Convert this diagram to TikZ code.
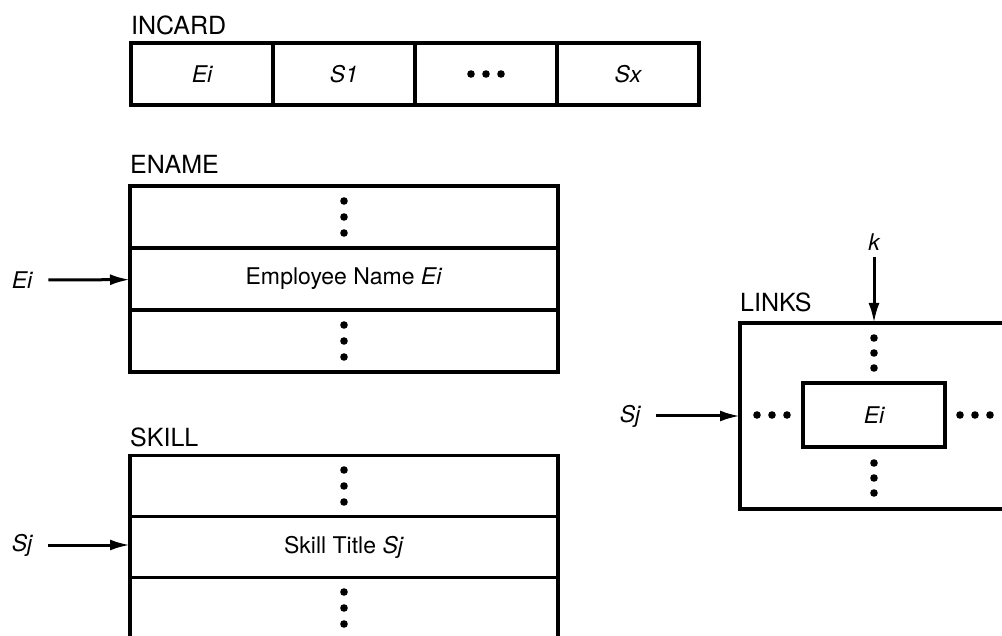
\documentclass[tikz,border=0pt]{standalone}
\usepackage{fontspec}
\setmainfont{TeX Gyre Heros}
\usetikzlibrary{arrows.meta}
\begin{document}
\begin{tikzpicture}[x=1pt,y=-1pt,
  txt/.style={font=\fontsize{23}{27}\selectfont},
  cell/.style={draw, line width=3.2pt, minimum width=#1, inner sep=0pt, outer sep=0pt, txt},
  title/.style={anchor=west, inner sep=0pt, font=\fontsize{25}{29}\selectfont},
  lbl/.style={inner sep=0pt, font=\fontsize{23}{27}\selectfont\itshape},
  arr/.style={line width=3pt, -{Latex[length=20pt,width=11pt]}},
  dot/.style={fill=black}
]
\clip (0,0) rectangle (1002,636);
\fill[white] (0,0) rectangle (1002,636);

% INCARD
\node[title] (tincard) at (131,25) {INCARD};
\node[cell=142, minimum height=62] (c1) at (202,74) {\itshape Ei};
\node[cell=142, minimum height=62] (c2) at (344,74) {\itshape S1};
\node[cell=142, minimum height=62] (c3) at (486,74) {};
\node[cell=142, minimum height=62] (c4) at (628,74) {\itshape Sx};
\foreach \x in {-15,0,15} \fill[dot] ([xshift=\x pt]c3.center) circle (3.8);

% ENAME
\node[title] (tename) at (130,164) {ENAME};
\node[cell=428, minimum height=62] (e1) at (344,217) {};
\node[cell=428, minimum height=62] (e2) at (344,279) {Employee Name \textit{Ei}};
\node[cell=428, minimum height=62] (e3) at (344,341) {};
\foreach \y in {-16,0,16} {
  \fill[dot] ([yshift=\y pt]e1.center) circle (3.8);
  \fill[dot] ([yshift=\y pt]e3.center) circle (3.8);
}
\node[lbl] (ei) at (22,280) {Ei};
\draw[arr, shorten <=16pt] (ei) -- (e2);

% SKILL
\node[title] (tskill) at (130,437) {SKILL};
\node[cell=428, minimum height=61] (s1) at (344,486) {};
\node[cell=428, minimum height=61] (s2) at (344,547) {Skill Title \textit{Sj}};
\node[cell=428, minimum height=61] (s3) at (344,608) {};
\foreach \y in {-16,0,16} {
  \fill[dot] ([yshift=\y pt]s1.center) circle (3.8);
  \fill[dot] ([yshift=\y pt]s3.center) circle (3.8);
}
\node[lbl] (sj) at (22,545) {Sj};
\draw[arr, shorten <=16pt] (sj) -- (sj -| s2.west);

% LINKS
\node[title] (tlinks) at (740,302) {LINKS};
\node[cell=274, minimum height=186] (links) at (877,416) {};
\node[cell=142, minimum height=64] (inner) at (874,415) {\itshape Ei};
\foreach \d in {0,15,30} {
  \fill[dot] (874,338+\d) circle (3.8);
  \fill[dot] (874,463+\d) circle (3.8);
  \fill[dot] (757+\d,415) circle (3.8);
  \fill[dot] (960+\d,415) circle (3.8);
}
\node[lbl] (k) at (874,242) {k};
\draw[arr, shorten <=6pt] (k) -- (k |- links.north);
\node[lbl] (sj2) at (630,416) {Sj};
\draw[arr, shorten <=16pt] (sj2) -- (sj2 -| links.west);
\end{tikzpicture}
\end{document}
